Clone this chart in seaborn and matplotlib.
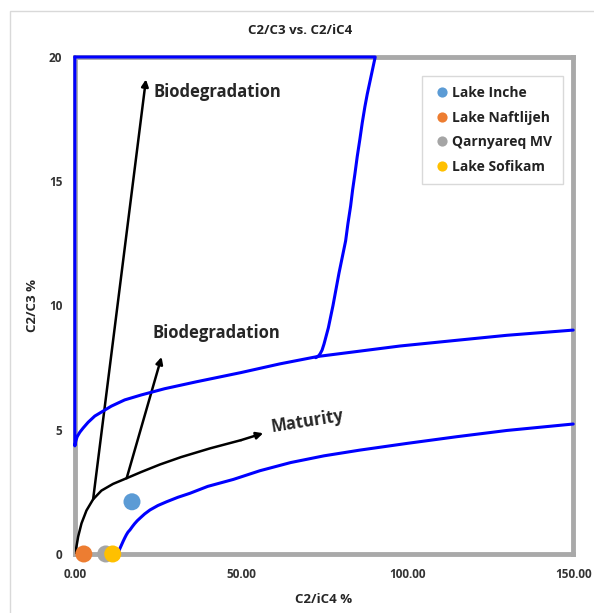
import numpy as np
import pandas as pd
import matplotlib
matplotlib.use("Agg")
import matplotlib.pyplot as plt
import seaborn as sns
from matplotlib.patches import Rectangle

# data
sample_names = ["Lake Inche", "Lake Naftlijeh", "Qarnyareq MV", "Lake Sofikam"]
sample_x = [17.2, 2.7, 9.3, 11.4]
sample_y = [2.1, 0.0, 0.0, 0.0]
sample_colors = ["#5b9bd5", "#ed7d31", "#a5a5a5", "#ffc000"]

# upper blue envelope (left edge + curve)
upper_x = [0, 0, 0.3, 0.7, 1.5, 2.5, 4, 6, 8.5, 11, 15, 20, 27, 36.6, 50, 61.7,
           73.2, 85, 97.9, 115, 130, 150]
upper_y = [20, 4.35, 4.55, 4.72, 4.9, 5.07, 5.3, 5.55, 5.75, 5.95, 6.2, 6.4, 6.65, 6.93, 7.3, 7.65,
           7.95, 8.15, 8.37, 8.6, 8.8, 9.01]
# top edge + steep branch
steep_x = [0, 90.4, 89.6, 88.8, 88.0, 87.3, 86.5, 85.8, 85.0, 84.3, 83.6, 83.0, 82.2, 81.5, 80.5,
           79.5, 78.6, 77.7, 77.0, 76.3, 75.6, 75.0, 74.4, 73.8, 73.2, 72.5]
steep_y = [20, 20, 19.5, 19.0, 18.5, 18.0, 17.35, 16.7, 16.0, 15.3, 14.65, 14.0, 13.3, 12.6, 11.95,
           11.3, 10.65, 10.0, 9.55, 9.1, 8.75, 8.45, 8.2, 8.05, 7.95, 7.9]
# lower blue curve
lower_x = [13.0, 13.2, 13.5, 14.0, 14.5, 15.0, 15.5, 16.0, 16.6, 17.3, 18, 18.8, 19.6, 21, 22.6,
           25, 27.6, 31, 34.6, 40, 47.7, 55.7, 65, 75, 85.8, 100, 115, 130, 150]
lower_y = [0, 0.1, 0.2, 0.35, 0.5, 0.64, 0.77, 0.88, 0.97, 1.1, 1.22, 1.34, 1.44, 1.61, 1.77,
           1.95, 2.1, 2.28, 2.44, 2.72, 3.0, 3.35, 3.68, 3.95, 4.18, 4.45, 4.72, 4.97, 5.23]
# maturity trend (black)
mat_x = [0, 0.3, 1, 2, 3.5, 5.5, 8, 11.5, 15.6, 20, 25.6, 32, 40.7, 50]
mat_y = [0, 0.16, 0.7, 1.23, 1.75, 2.2, 2.55, 2.82, 3.05, 3.3, 3.6, 3.9, 4.25, 4.58]
mat_tip = (56.7, 4.86)
# biodegradation arrows (start, end)
bio1 = [(5.5, 2.2), (21.4, 19.1)]
bio2 = [(15.6, 3.05), (26.1, 7.93)]

sns.set_style("white")
plt.rcParams["font.family"] = ["Open Sans", "DejaVu Sans"]

fig = plt.figure(figsize=(5.94, 6.13), dpi=100)
ax = fig.add_axes([0.126, 0.0963, 0.839, 0.8107])

# outer chart border
fig.patches.append(Rectangle((10 / 594, -0.1), 1.2, 1 - 11 / 613 + 0.1, transform=fig.transFigure,
                             fill=False, edgecolor="#d9d9d9", linewidth=1))

blue = "#0000ff"
for xs, ys in [(upper_x, upper_y), (steep_x, steep_y), (lower_x, lower_y)]:
    sns.lineplot(x=xs, y=ys, sort=False, estimator=None, color=blue, linewidth=2.2, ax=ax,
                 clip_on=False, zorder=4)

sns.lineplot(x=mat_x, y=mat_y, sort=False, estimator=None, color="black", linewidth=1.8, ax=ax, zorder=3)
arrow = dict(arrowstyle="-|>", color="black", lw=1.8, mutation_scale=10, shrinkA=0, shrinkB=0)
ax.annotate("", xy=mat_tip, xytext=(mat_x[-1], mat_y[-1]), arrowprops=arrow, zorder=3)
ax.annotate("", xy=bio1[1], xytext=bio1[0], arrowprops=arrow, zorder=3)
ax.annotate("", xy=bio2[1], xytext=bio2[0], arrowprops=arrow, zorder=3)

ax.text(23.8, 18.6, "Biodegradation", fontsize=12, fontweight="bold", ha="left", va="center")
ax.text(23.5, 8.9, "Biodegradation", fontsize=12, fontweight="bold", ha="left", va="center")
ax.text(59.2, 5.12, "Maturity", fontsize=12, fontweight="bold", ha="left", va="center",
        rotation=9, rotation_mode="anchor")

df = pd.DataFrame({"x": sample_x, "y": sample_y, "name": sample_names})
sns.scatterplot(data=df, x="x", y="y", hue="name", palette=sample_colors, s=150,
                edgecolor="none", ax=ax, clip_on=False, zorder=5)

ax.set_xlim(0, 150)
ax.set_ylim(0, 20)
ax.set_xticks([0, 50, 100, 150])
ax.set_xticklabels(["0.00", "50.00", "100.00", "150.00"])
ax.set_yticks([0, 5, 10, 15, 20])
ax.tick_params(axis="both", length=0, labelsize=8.5, colors="#333333")
ax.tick_params(axis="x", pad=10)
ax.tick_params(axis="y", pad=9)
for lbl in ax.get_xticklabels() + ax.get_yticklabels():
    lbl.set_fontweight("bold")
for sp in ax.spines.values():
    sp.set_visible(True)
    sp.set_color("#a9a9a9")
    sp.set_linewidth(3.5)

fig.text(300 / 594, 1 - 31 / 613, "C2/C3 vs. C2/iC4", fontsize=9.5, fontweight="bold",
         ha="center", va="center", color="#222222")
ax.set_xlabel("C2/iC4 %", fontsize=9.5, fontweight="bold", labelpad=9)
ax.set_ylabel("C2/C3 %", fontsize=9.5, fontweight="bold", labelpad=7)

leg = ax.legend(loc="upper right", bbox_to_anchor=(0.993, 0.976), frameon=True, fancybox=False,
                fontsize=10, handletextpad=0.1, labelspacing=0.75, borderpad=0.75,
                markerscale=0.6, handlelength=1.3)
leg.get_frame().set_edgecolor("#d0d0d0")
leg.get_frame().set_linewidth(1)
for t in leg.get_texts():
    t.set_fontweight("bold")
    t.set_color("#222222")

fig.savefig("out.png", dpi=100)
